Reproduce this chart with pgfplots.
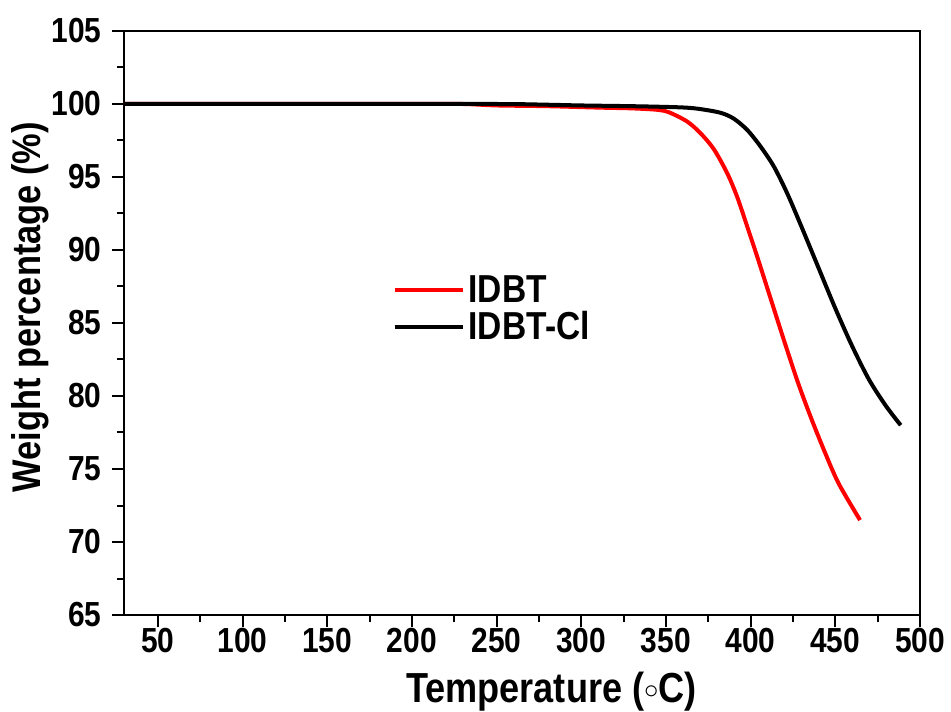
\documentclass[border=0pt]{standalone}
\usepackage{fontspec}
\setmainfont[FakeStretch=0.86]{Liberation Sans}
\usepackage{pgfplots}
\pgfplotsset{compat=1.18}

\begin{document}
\begin{tikzpicture}
\begin{axis}[
  scale only axis,
  width=398pt, height=292pt,
  xmin=30, xmax=500, ymin=65, ymax=105,
  xtick={50,100,...,500}, ytick={65,70,...,105},
  minor x tick num=1, minor y tick num=1,
  xtick pos=left, ytick pos=left,
  tick align=outside,
  major tick length=6pt, minor tick length=3.5pt,
  every tick/.style={black, line width=1pt},
  axis line style={line width=1pt},
  /pgf/number format/assume math mode=true,
  tick label style={font=\fontsize{17.4}{19}\selectfont\bfseries},
  xticklabel style={inner sep=0pt, yshift=-0.5pt},
  yticklabel style={inner sep=0pt, xshift=-5pt},
  xlabel={Temperature (\raisebox{0.15ex}{$\scriptstyle\circ$}C)},
  ylabel={Weight percentage (\%)},
  xlabel style={font=\fontsize{21}{24}\selectfont\bfseries,
    at={(axis description cs:0.537,-0.149)}, anchor=base},
  ylabel style={font=\fontsize{20}{24}\selectfont\bfseries,
    at={(axis description cs:-0.1043,0.527)}, anchor=base},
  legend style={draw=none, fill=none, at={(axis description cs:0.337,0.589)}, anchor=north west,
    font=\fontsize{19.5}{22}\selectfont\bfseries, inner sep=0pt, row sep=-1pt},
  legend cell align=left,
  legend image code/.code={\draw[#1, line width=2pt] (0pt,0pt) -- (34pt,0pt);},
]
\addplot[red, line width=2pt, smooth, tension=0.5] coordinates {
(30,100) (100,100) (150,100) (200,100) (230,100) (250,99.9) (280,99.85)
(311,99.75) (330,99.7) (345,99.6) (352,99.42) (362.5,98.8) (370.4,98.0)
(378.3,96.9) (386.2,95.25) (392,93.65) (398,91.6) (404,89.5)
(412,86.6) (420,83.7) (428,80.9) (436,78.4) (444,76.1) (452,74.0) (464.6,71.5)};
\addlegendentry{IDBT}
\addplot[black, line width=2pt, smooth, tension=0.5] coordinates {
(30,100) (150,100) (250,100) (280,99.95) (300,99.9) (330,99.85) (350,99.8)
(362,99.75) (370.4,99.65) (382.2,99.4) (390,99.0) (398,98.22) (405.9,97.08)
(413.8,95.7) (421.7,93.85) (430,91.6) (440,88.8) (450,86.0) (460,83.4)
(470,81.1) (480,79.3) (488.6,78.0)};
\addlegendentry{IDBT-Cl}
\end{axis}
\pgfresetboundingbox
\useasboundingbox (-62pt,-48pt) rectangle (413.5pt,307.5pt);
\end{tikzpicture}
\end{document}
